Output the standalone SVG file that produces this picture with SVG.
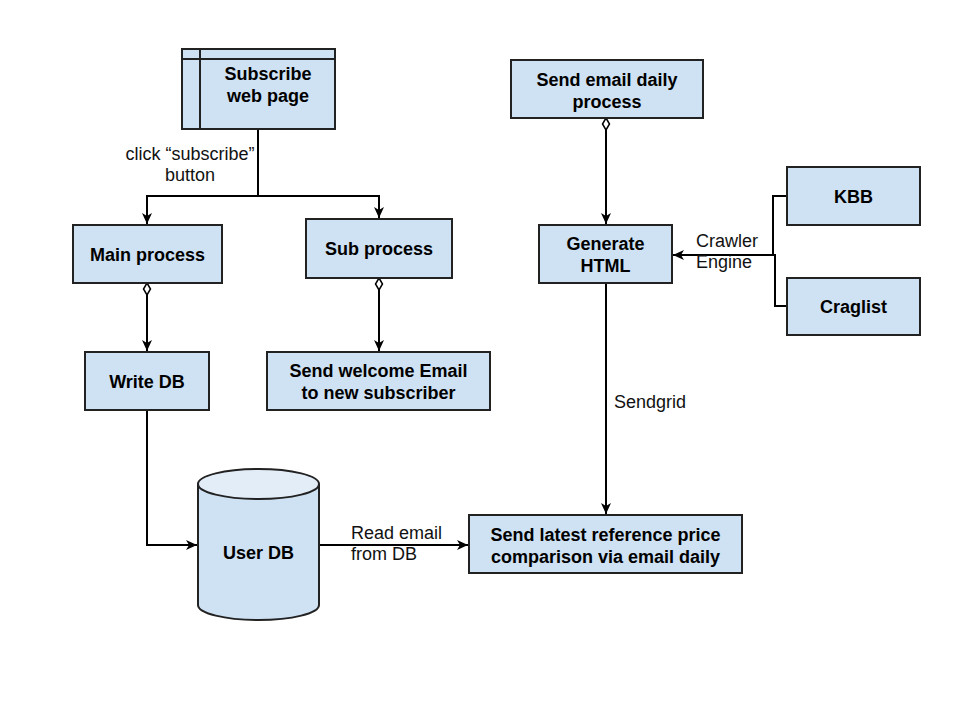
<svg xmlns="http://www.w3.org/2000/svg" width="960" height="720" viewBox="0 0 960 720">
<style>
.box{fill:#cfe2f3;stroke:#222;stroke-width:2}
.top{fill:#e3edf8;stroke:#222;stroke-width:2}
.t{font-family:"Liberation Sans",Arial,sans-serif;font-size:18px;font-weight:bold;fill:#000;text-anchor:middle}
.l{font-family:"Liberation Sans",Arial,sans-serif;font-size:18px;fill:#111}
.c{fill:none;stroke:#000;stroke-width:2}
</style>
<defs>
<marker id="arr" markerUnits="userSpaceOnUse" markerWidth="12" markerHeight="12" viewBox="0 0 12 12" refX="11" refY="6" orient="auto">
<path d="M0,1 L11,6 L0,11 L3,6 z" fill="#000"/>
</marker>
<marker id="dia" markerUnits="userSpaceOnUse" markerWidth="14" markerHeight="10" viewBox="0 0 14 10" refX="1" refY="5" orient="auto">
<path d="M1,5 L7,1.5 L13,5 L7,8.5 z" fill="#fff" stroke="#000" stroke-width="1.5"/>
</marker>
</defs>
<rect width="960" height="720" fill="#fff"/>

<g id="connectors">
<path class="c" d="M258,129 V196 H147 V224" marker-end="url(#arr)"/>
<path class="c" d="M258,196 H379 V218" marker-end="url(#arr)"/>
<path class="c" d="M147,283 V351" marker-start="url(#dia)" marker-end="url(#arr)"/>
<path class="c" d="M379,278 V351" marker-start="url(#dia)" marker-end="url(#arr)"/>
<path class="c" d="M147,410 V545 H197" marker-end="url(#arr)"/>
<path class="c" d="M319,545 H468" marker-end="url(#arr)"/>
<path class="c" d="M606,118 V224" marker-start="url(#dia)" marker-end="url(#arr)"/>
<path class="c" d="M606,283 V514" marker-end="url(#arr)"/>
<path class="c" d="M787,196 H773 V255 H673" marker-end="url(#arr)"/>
<path class="c" d="M787,306 H775 V255 H700"/>
<text class="l" x="190" y="160" text-anchor="middle">click “subscribe”</text>
<text class="l" x="190" y="181" text-anchor="middle">button</text>
<text class="l" x="696" y="247">Crawler</text>
<text class="l" x="696" y="268">Engine</text>
<text class="l" x="614" y="408">Sendgrid</text>
<text class="l" x="351" y="539">Read email</text>
<text class="l" x="351" y="560">from DB</text>
</g>

<g id="subscribe">
<rect class="box" x="182" y="49" width="153" height="80"/>
<path d="M200,49 V129 M182,59 H335" stroke="#222" stroke-width="2" fill="none"/>
<text class="t" x="268" y="80">Subscribe</text>
<text class="t" x="268" y="102">web page</text>
</g>

<g id="main">
<rect class="box" x="73" y="225" width="149" height="58"/>
<text class="t" x="147.5" y="261">Main process</text>
</g>

<g id="sub">
<rect class="box" x="306" y="219" width="146" height="59"/>
<text class="t" x="379" y="255">Sub process</text>
</g>

<g id="writedb">
<rect class="box" x="85" y="352" width="124" height="58"/>
<text class="t" x="147" y="388">Write DB</text>
</g>

<g id="welcome">
<rect class="box" x="267" y="352" width="223" height="58"/>
<text class="t" x="378.5" y="377">Send welcome Email</text>
<text class="t" x="378.5" y="399">to new subscriber</text>
</g>

<g id="userdb">
<path class="box" d="M198,484 V605 A60.5,15 0 0 0 319,605 V484"/>
<ellipse class="top" cx="258.5" cy="484" rx="60.5" ry="15"/>
<text class="t" x="258.5" y="559">User DB</text>
</g>

<g id="daily">
<rect class="box" x="511" y="60" width="192" height="58"/>
<text class="t" x="607" y="86">Send email daily</text>
<text class="t" x="607" y="108">process</text>
</g>

<g id="generate">
<rect class="box" x="539" y="225" width="133" height="58"/>
<text class="t" x="605.5" y="250">Generate</text>
<text class="t" x="605.5" y="272">HTML</text>
</g>

<g id="kbb">
<rect class="box" x="787" y="167" width="133" height="58"/>
<text class="t" x="853.5" y="203">KBB</text>
</g>

<g id="craglist">
<rect class="box" x="787" y="278" width="133" height="57"/>
<text class="t" x="853.5" y="313">Craglist</text>
</g>

<g id="sendlatest">
<rect class="box" x="469" y="515" width="273" height="58"/>
<text class="t" x="605.5" y="541">Send latest reference price</text>
<text class="t" x="605.5" y="563">comparison via email daily</text>
</g>
</svg>
